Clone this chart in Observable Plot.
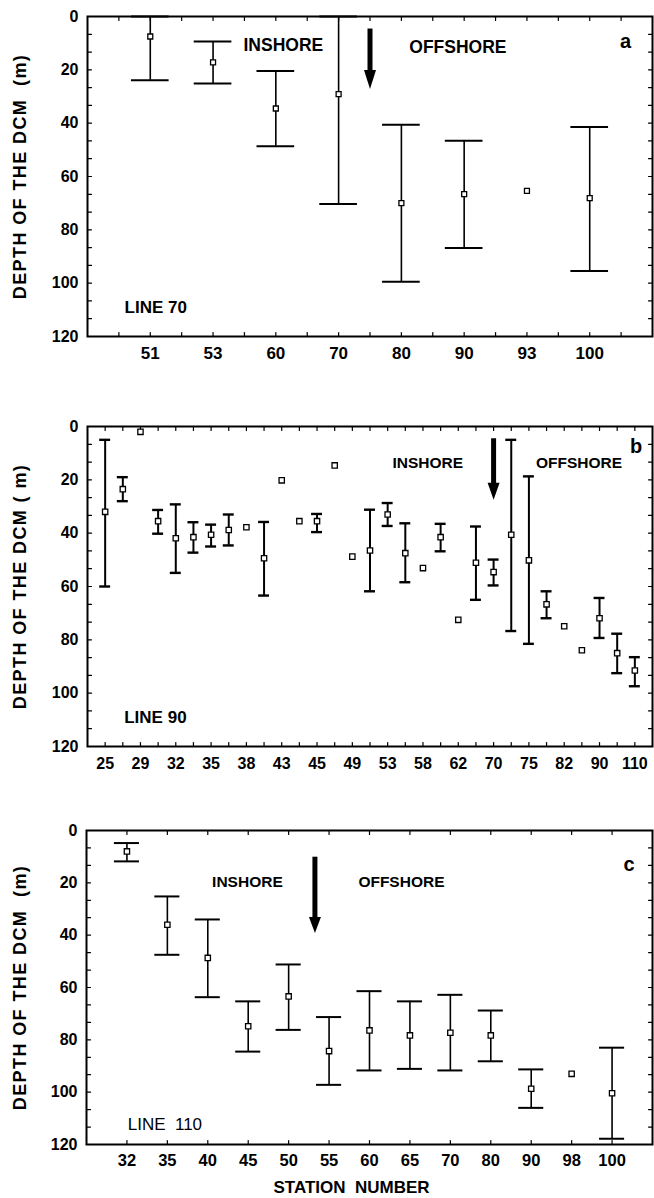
<!DOCTYPE html>
<html><head><meta charset="utf-8">
<script src="https://cdn.jsdelivr.net/npm/d3@7"></script>
<script src="https://cdn.jsdelivr.net/npm/@observablehq/plot@0.6"></script>
<style>
body{margin:0;background:#fff;}
#chart svg{display:block;}
</style></head><body><div id="chart"></div>
<script>
// ---- Panel a : LINE 70 ----
const stationsA = ["51","53","60","70","80","90","93","100"];
const meanA = [7.5, 17.2, 34.5, 29.1, 70.0, 66.6, 65.4, 68.1];
const topA  = [0, 9.4, 20.4, 0, 40.6, 46.6, null, 41.4];
const botA  = [23.9, 25.1, 48.7, 70.3, 99.5, 86.8, null, 95.4];

// ---- Panel b : LINE 90 ----
const labelsB = ["25","","29","","32","","35","","38","","43","","45","","49","","53","","58","","62","","70","","75","","82","","90","","110"];
const meanB = [32, 23.5, 2, 35.5, 41.9, 41.5, 40.6, 38.8, 37.8, 49.4, 20.2, 35.5, 35.5, 14.6, 48.8, 46.5, 33, 47.5, 53.1, 41.5, 72.5, 51.1, 54.6, 40.6, 50.2, 66.7, 74.9, 83.9, 71.9, 85, 91.5];
const topB  = [5, 19, null, 31.3, 29.2, 35.9, 36.8, 33, null, 35.8, null, null, 32.8, null, null, 31.2, 28.7, 36.3, null, 36.5, null, 37.5, 49.9, 5, 18.7, 61.8, null, null, 64.3, 77.7, 86.5];
const botB  = [60, 28, null, 40.2, 54.9, 47.3, 45, 44.6, null, 63.4, null, null, 39.6, null, null, 61.8, 37.3, 58.4, null, 46.8, null, 65, 59.6, 76.7, 81.5, 71.9, null, null, 79.3, 92.5, 97.4];

// ---- Panel c : LINE 110 ----
const stationsC = ["32","35","40","45","50","55","60","65","70","80","90","98","100"];
const meanC = [8.0, 36, 48.7, 74.8, 63.4, 84.3, 76.4, 78.3, 77.3, 78.3, 98.7, 93, 100.4];
const topC  = [4.8, 25.2, 34, 65.3, 51.2, 71.3, 61.4, 65.3, 62.8, 68.8, 91.3, null, 83];
const botC  = [11.8, 47.5, 63.7, 84.5, 76.2, 97.2, 91.7, 91.1, 91.7, 88.2, 106, null, 117.8];

const yTickValues = [0, 20, 40, 60, 80, 100, 120];

const FONT = "'Liberation Sans', Arial, Helvetica, sans-serif";
const tickShape = {draw(ctx, l) { ctx.moveTo(0, 0); ctx.lineTo(0, -l); }};
const yMinor = d3.range(0, 121, 20 / 3);

function makePanel(c) {
  const n = c.labels.length;
  const rows = c.labels.map((s, i) => ({i, mean: c.mean[i], top: c.top[i], bot: c.bot[i]}));
  const bars = rows.filter(d => d.top != null);
  const marks = [
    Plot.axisY({ticks: yTickValues, tickSize: 0, tickPadding: 9, fontSize: 16, fontWeight: "bold", label: null}),
    Plot.axisX({ticks: d3.range(n), tickSize: 0, tickPadding: c.xPad, tickFormat: i => c.labels[i], fontSize: c.xFont, fontWeight: "bold", label: null}),
    // inward minor ticks on all four sides
    Plot.vector(yMinor, {y: d => d, frameAnchor: "left", rotate: 90, anchor: "start", length: 4, shape: tickShape, strokeWidth: 1.2}),
    Plot.vector(yMinor, {y: d => d, frameAnchor: "right", rotate: -90, anchor: "start", length: 4, shape: tickShape, strokeWidth: 1.2}),
    Plot.vector(c.xMinor, {x: d => d, frameAnchor: "top", rotate: 180, anchor: "start", length: 4, shape: tickShape, strokeWidth: 1.2}),
    Plot.vector(c.xMinor, {x: d => d, frameAnchor: "bottom", rotate: 0, anchor: "start", length: 4, shape: tickShape, strokeWidth: 1.2}),
    // whiskers + caps
    Plot.ruleX(bars, {x: "i", y1: "top", y2: "bot", strokeWidth: c.whisker}),
    Plot.ruleY(bars, {y: "top", x1: d => d.i - c.cap, x2: d => d.i + c.cap, strokeWidth: c.capW}),
    Plot.ruleY(bars, {y: "bot", x1: d => d.i - c.cap, x2: d => d.i + c.cap, strokeWidth: c.capW}),
    Plot.dot(rows, {x: "i", y: "mean", symbol: "square", r: c.r, fill: "white", stroke: "black", strokeWidth: 1.3}),
    Plot.frame({strokeWidth: 2}),
    // y label
    Plot.text([c.yLabel], {frameAnchor: "left", dx: 20 - c.marginLeft, rotate: -90, textAnchor: "middle", lineAnchor: "middle", fontSize: 18, fontWeight: "bold"}),
    // arrow
    Plot.ruleX([c.arrow], {x: "x", y1: "y1", y2: d => d.y2 - 3, strokeWidth: 5}),
    Plot.vector([c.arrow], {x: "x", y: "y2", rotate: 180, anchor: "end", shape: "spike", length: c.arrow.head, r: 6, fill: "black", stroke: "none"}),
    // annotations
    Plot.text([c.inshore], {x: "x", y: "y", text: "t", fontSize: c.noteFont, fontWeight: "bold"}),
    Plot.text([c.offshore], {x: "x", y: "y", text: "t", fontSize: c.noteFont, fontWeight: "bold"}),
    Plot.text([c.letter], {x: "x", y: "y", text: "t", fontSize: 20, fontWeight: "bold"}),
    Plot.text([c.line], {x: "x", y: "y", text: "t", textAnchor: "start", fontSize: 17, fontWeight: c.lineWeight})
  ];
  if (c.extra) marks.push(c.extra);
  const svg = Plot.plot({
    width: 654, height: c.height,
    marginTop: c.marginTop, marginBottom: c.marginBottom, marginLeft: c.marginLeft, marginRight: 2,
    style: {fontFamily: FONT, background: "#fff", color: "#000", overflow: "visible"},
    x: {type: "linear", domain: [-1, n]},
    y: {domain: [0, 120], reverse: true},
    marks
  });
  svg.querySelectorAll("text").forEach(t => {
    if (t.textContent.startsWith("DEPTH")) t.setAttribute("letter-spacing", "1.4");
  });
  return svg;
}

const chart = document.getElementById("chart");

chart.appendChild(makePanel({
  labels: stationsA, mean: meanA, top: topA, bot: botA,
  height: 390, marginTop: 16, marginBottom: 54, marginLeft: 87,
  xMinor: d3.range(-0.5, 7.51, 0.5), xFont: 17, xPad: 10,
  whisker: 1.6, cap: 0.3, capW: 2, r: 2.8,
  yLabel: "DEPTH OF THE DCM\u00a0 (m)",
  arrow: {x: 3.5, y1: 4.7, y2: 27.2, head: 19},
  inshore: {x: 2.12, y: 11, t: "INSHORE"},
  offshore: {x: 4.9, y: 11.6, t: "OFFSHORE"},
  letter: {x: 7.57, y: 9.5, t: "a"},
  line: {x: -0.41, y: 109, t: "LINE 70"}, lineWeight: "bold",
  noteFont: 17.5
}));

chart.appendChild(makePanel({
  labels: labelsB, mean: meanB, top: topB, bot: botB,
  height: 390, marginTop: 36, marginBottom: 34, marginLeft: 87,
  xMinor: d3.range(0, 31), xFont: 16, xPad: 11,
  whisker: 2, cap: 0.31, capW: 2.4, r: 3,
  yLabel: "DEPTH OF THE DCM ( m)",
  arrow: {x: 22, y1: 4.6, y2: 27.5, head: 17},
  inshore: {x: 18.27, y: 13.7, t: "INSHORE"},
  offshore: {x: 26.84, y: 13.7, t: "OFFSHORE"},
  letter: {x: 30.07, y: 7.4, t: "b"},
  line: {x: 1.08, y: 109, t: "LINE 90"}, lineWeight: "bold",
  noteFont: 15.5
}));

chart.appendChild(makePanel({
  labels: stationsC, mean: meanC, top: topC, bot: botC,
  height: 418, marginTop: 50, marginBottom: 54, marginLeft: 86,
  xMinor: d3.range(0, 13), xFont: 16.5, xPad: 10,
  whisker: 1.6, cap: 0.31, capW: 2, r: 3,
  yLabel: "DEPTH OF THE DCM\u00a0 (m)",
  arrow: {x: 4.65, y1: 10.2, y2: 39.2, head: 16},
  inshore: {x: 2.98, y: 19.8, t: "INSHORE"},
  offshore: {x: 6.79, y: 19.8, t: "OFFSHORE"},
  letter: {x: 12.42, y: 13, t: "c"},
  line: {x: 0.02, y: 112.4, t: "LINE\u00a0 110"}, lineWeight: "normal",
  noteFont: 15.5,
  extra: Plot.text(["STATION\u00a0 NUMBER"], {frameAnchor: "bottom", dx: -18, dy: 43, lineAnchor: "middle", textAnchor: "middle", fontSize: 17, fontWeight: "bold"})
}));
</script>
</body></html>
